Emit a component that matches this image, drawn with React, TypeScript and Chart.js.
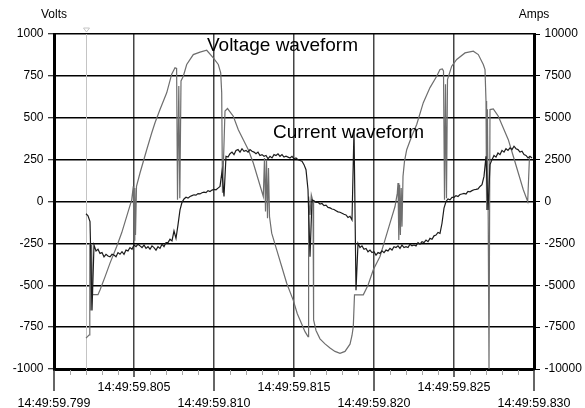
import React, { useEffect, useRef } from 'react';
import { Chart, registerables } from 'chart.js';

Chart.register(...registerables);

// ---- axes ----
const xTickValues = [0, 5, 10, 15, 20, 25, 30];
const xTickLabels = [
  '14:49:59.799',
  '14:49:59.805',
  '14:49:59.810',
  '14:49:59.815',
  '14:49:59.820',
  '14:49:59.825',
  '14:49:59.830',
];
const xMinorStepMs = 1;
const voltsRange = [-1000, 1000];
const voltsStep = 250;
const ampsRange = [-10000, 10000];
const ampsStep = 2500;
const leftAxisTitle = 'Volts';
const rightAxisTitle = 'Amps';

// ---- voltage waveform (ms after start, volts) ----
const voltageMs = [
  2.0, 2.188, 2.238, 2.3, 2.35, 2.406, 2.75, 2.875, 3.188, 3.5, 3.919, 4.231, 4.544, 4.856, 4.956,
  5.0, 5.05, 5.094, 5.156, 5.375, 5.794, 6.106, 6.313, 6.625, 7.044, 7.356, 7.563, 7.663, 7.719,
  7.8, 7.863, 7.938, 8.081, 8.294, 8.706, 9.125, 9.544, 9.956, 10.269, 10.419, 10.481, 10.531,
  10.688, 10.844, 11.206, 11.519, 11.831, 12.144, 12.456, 12.769, 13.081, 13.156, 13.219, 13.281,
  13.344, 13.406, 13.469, 13.606, 13.919, 14.231, 14.544, 14.956, 15.206, 15.375, 15.688, 15.875,
  15.913, 16.0, 16.081, 16.188, 16.225, 16.375, 16.625, 16.938, 17.25, 17.563, 17.875, 18.188,
  18.5, 18.625, 18.706, 18.781, 19.331, 19.625, 19.956, 20.375, 20.688, 21.0, 21.313, 21.456,
  21.5, 21.55, 21.6, 21.65, 21.7, 21.75, 21.813, 21.906, 22.044, 22.356, 22.669, 23.081, 23.5,
  23.919, 24.125, 24.269, 24.344, 24.406, 24.469, 24.531, 24.594, 24.856, 25.169, 25.688, 26.206,
  26.519, 26.831, 26.938, 27.0, 27.038, 27.088, 27.138, 27.188, 27.25, 27.456, 27.769, 28.081,
  28.394, 28.706, 29.019, 29.331, 29.606, 29.719,
];
const voltageVolts = [
  -816, -797, -250, -650, -260, -556, -556, -528, -450, -368, -269, -187, -89, 10, 90,
  -230, 80, -200, 90, 170, 309, 409, 470, 549, 649, 760, 798, 795, 10,
  690, 20, 720, 748, 818, 877, 892, 903, 857, 818, 768, 650, 52,
  540, 555, 509, 429, 369, 309, 230, 130, 30, 260, -60, 250,
  -100, 200, -90, -189, -289, -388, -488, -590, -670, -707, -777, -807,
  30, -80, 40, 0, -707, -770, -820, -850, -875, -895, -907, -895,
  -852, -800, -747, -557, -557, -500, -408, -328, -229, -129, -30, 50,
  110, -230, 100, -200, 80, -150, 150, 240, 309, 389, 460, 590, 680,
  748, 788, 792, 780, 10, 700, 20, 728, 808, 848, 887, 897,
  877, 818, 788, 600, -50, 550, -100, -1000, 549, 553, 509, 439,
  369, 270, 170, 70, 0, 270,
];

// ---- current waveform (sampled every 0.125 ms from 2.0 ms, amps) ----
const currentStartMs = 2.0;
const currentStepMs = 0.125;
const currentAmps = [
  -730, -850, -1200, -6500, -2600, -2950, -2850, -3100, -3050, -3300,
  -3150, -3250, -3300, -3150, -3200, -3300, -3050, -3150, -3000, -3150,
  -2900, -2950, -2750, -2850, -2600, -2700, -2550, -2650, -2750, -2600,
  -2800, -2700, -2850, -2650, -2750, -2900, -2700, -2800, -2550, -2700,
  -2450, -2450, -2250, -2350, -1750, -2200, -1400, -500, -50, 150,
  250, 200, 300, 350, 400, 380, 470, 450, 520, 560,
  530, 650, 600, 680, 720, 700, 800, 900, 1800, 300,
  2700, 2650, 2850, 2950, 2800, 3050, 3100, 2950, 3150, 3000,
  3050, 2950, 3100, 3000, 2950, 2850, 2950, 2750, 2800, 2700,
  2750, 2550, 2700, 2600, 2800, 2750, 2850, 2700, 2800, 2650,
  2700, 2650, 2600, 2700, 2550, 2600, 2500, 2450, 2400, 2200,
  1900, 700, -3300, 100, 50, -50, -50, -150, -120, -250,
  -220, -350, -380, -450, -480, -550, -620, -640, -700, -760,
  -800, -950, -880, -1100, 4300, -5300, -2500, -2750, -2650, -2850,
  -2800, -3000, -2900, -3050, -3000, -3200, -3050, -3100, -2950, -3050,
  -2900, -2950, -2800, -2900, -2700, -2750, -2650, -2800, -2600, -2750,
  -2700, -2750, -2550, -2650, -2600, -2650, -2450, -2550, -2400, -2450,
  -2300, -2400, -2200, -2250, -2050, -2000, -1850, -1900, -1300, -400,
  0, 150, 100, 250, 250, 350, 300, 420, 450, 480,
  450, 600, 580, 650, 700, 720, 750, 900, 1000, 1500,
  2700, -500, 2200, 2500, 2750, 2650, 2900, 2800, 3050, 2950,
  3150, 3050, 3200, 3100, 3300, 3150, 3100, 2950, 3000, 2800,
  2750, 2600, 2700, 2600,
];

// ---- cursor and in-plot labels ----
const cursorMs = [2.0];
const annotationTexts = ['Voltage waveform', 'Current waveform'];
const annotationMs = [9.56, 13.69];
const annotationVolts = [931, 410];

const FONT = '"Liberation Sans", Arial, Helvetica, sans-serif';

const decorations = {
  id: 'decorations',
  beforeDatasetsDraw(chart: any) {
    const { ctx, chartArea, scales } = chart;
    ctx.save();
    ctx.strokeStyle = '#c4c4c4';
    ctx.lineWidth = 1;
    cursorMs.forEach((ms) => {
      const x = Math.round(scales.x.getPixelForValue(ms)) + 0.5;
      ctx.beginPath();
      ctx.moveTo(x, chartArea.top);
      ctx.lineTo(x, chartArea.bottom);
      ctx.stroke();
      ctx.beginPath();
      ctx.moveTo(x - 3, chartArea.top - 6);
      ctx.lineTo(x + 3, chartArea.top - 6);
      ctx.lineTo(x, chartArea.top - 2);
      ctx.closePath();
      ctx.stroke();
    });
    ctx.restore();
  },
  afterDraw(chart: any) {
    const { ctx, chartArea, scales } = chart;
    const xs = scales.x;
    ctx.save();
    // minor x ticks
    const min = xs.min;
    const max = xs.max;
    for (let v = min; v <= max + 1e-9; v += xMinorStepMs) {
      if (xTickValues.includes(v)) continue;
      const px = Math.round(xs.getPixelForValue(v)) + 0.5;
      ctx.strokeStyle = '#a8a8a8';
      ctx.lineWidth = 1;
      ctx.beginPath();
      ctx.moveTo(px, chartArea.bottom + 1);
      ctx.lineTo(px, chartArea.bottom + 6);
      ctx.stroke();
    }
    // major x ticks, long under lower-row labels
    xTickValues.forEach((v, i) => {
      const px = xs.getPixelForValue(v);
      ctx.strokeStyle = '#333';
      ctx.lineWidth = 1.5;
      ctx.beginPath();
      ctx.moveTo(px, chartArea.bottom + 1);
      ctx.lineTo(px, chartArea.bottom + (i % 2 === 0 ? 22 : 8));
      ctx.stroke();
    });
    // axis titles
    ctx.fillStyle = '#000';
    ctx.font = `12px ${FONT}`;
    ctx.textAlign = 'center';
    ctx.textBaseline = 'middle';
    ctx.fillText(leftAxisTitle, scales.y.right, chartArea.top - 19);
    ctx.fillText(rightAxisTitle, scales.y1.left, chartArea.top - 19);
    // in-plot labels
    ctx.font = `19px ${FONT}`;
    ctx.textAlign = 'left';
    annotationTexts.forEach((t, i) => {
      ctx.fillText(t, xs.getPixelForValue(annotationMs[i]), scales.y.getPixelForValue(annotationVolts[i]));
    });
    ctx.restore();
  },
};

export default function App() {
  const canvasRef = useRef<HTMLCanvasElement | null>(null);

  useEffect(() => {
    if (!canvasRef.current) return;
    Chart.defaults.font.family = FONT;
    Chart.defaults.font.size = 12;
    Chart.defaults.color = '#000';

    const currentData = currentAmps.map((a, i) => ({ x: currentStartMs + i * currentStepMs, y: a }));
    const voltageData = voltageMs.map((t, i) => ({ x: t, y: voltageVolts[i] }));

    const chart = new Chart(canvasRef.current, {
      type: 'line',
      data: {
        datasets: [
          {
            label: 'Current waveform',
            data: currentData,
            yAxisID: 'y1',
            borderColor: '#1c1c1c',
            borderWidth: 1.2,
            pointRadius: 0,
            tension: 0,
            fill: false,
          },
          {
            label: 'Voltage waveform',
            data: voltageData,
            yAxisID: 'y',
            borderColor: '#6e6e6e',
            borderWidth: 1.2,
            pointRadius: 0,
            tension: 0,
            fill: false,
          },
        ],
      },
      options: {
        animation: false,
        responsive: false,
        parsing: false as any,
        layout: { padding: { top: 34, left: 0, right: 0, bottom: 0 } },
        plugins: { legend: { display: false }, tooltip: { enabled: false }, title: { display: false } },
        scales: {
          x: {
            type: 'linear',
            min: xTickValues[0],
            max: xTickValues[xTickValues.length - 1],
            afterBuildTicks: (scale: any) => {
              scale.ticks = xTickValues.map((v) => ({ value: v }));
            },
            afterFit: (scale: any) => {
              scale.height = 39;
            },
            grid: { color: '#444', lineWidth: 1.5, drawTicks: false },
            border: { display: true, color: '#000', width: 3 },
            ticks: {
              autoSkip: false,
              maxRotation: 0,
              minRotation: 0,
              padding: 11,
              font: { size: 12.5, lineHeight: 1.25 },
              callback: (value: any, index: number) => {
                const label = xTickLabels[index] ?? '';
                return index % 2 === 0 ? ['', label] : label;
              },
            },
          },
          y: {
            type: 'linear',
            position: 'left',
            min: voltsRange[0],
            max: voltsRange[1],
            afterFit: (scale: any) => {
              scale.width = 54;
            },
            grid: { color: '#000', lineWidth: 1.5, tickLength: 6, tickColor: '#000', tickWidth: 1 },
            border: { display: true, color: '#000', width: 3 },
            ticks: { stepSize: voltsStep, padding: 4.5, callback: (v: any) => String(v) },
          },
          y1: {
            type: 'linear',
            position: 'right',
            min: ampsRange[0],
            max: ampsRange[1],
            afterFit: (scale: any) => {
              scale.width = 51;
            },
            grid: { drawOnChartArea: false, tickLength: 6, tickColor: '#000', tickWidth: 1 },
            border: { display: true, color: '#000', width: 3 },
            ticks: { stepSize: ampsStep, padding: 4.5, callback: (v: any) => String(v) },
          },
        },
      },
      plugins: [decorations],
    });
    return () => chart.destroy();
  }, []);

  return (
    <div style={{ position: 'fixed', left: 0, top: 0, width: 585, height: 408, background: '#fff' }}>
      <canvas ref={canvasRef} width={585} height={408} style={{ display: 'block' }} />
    </div>
  );
}
